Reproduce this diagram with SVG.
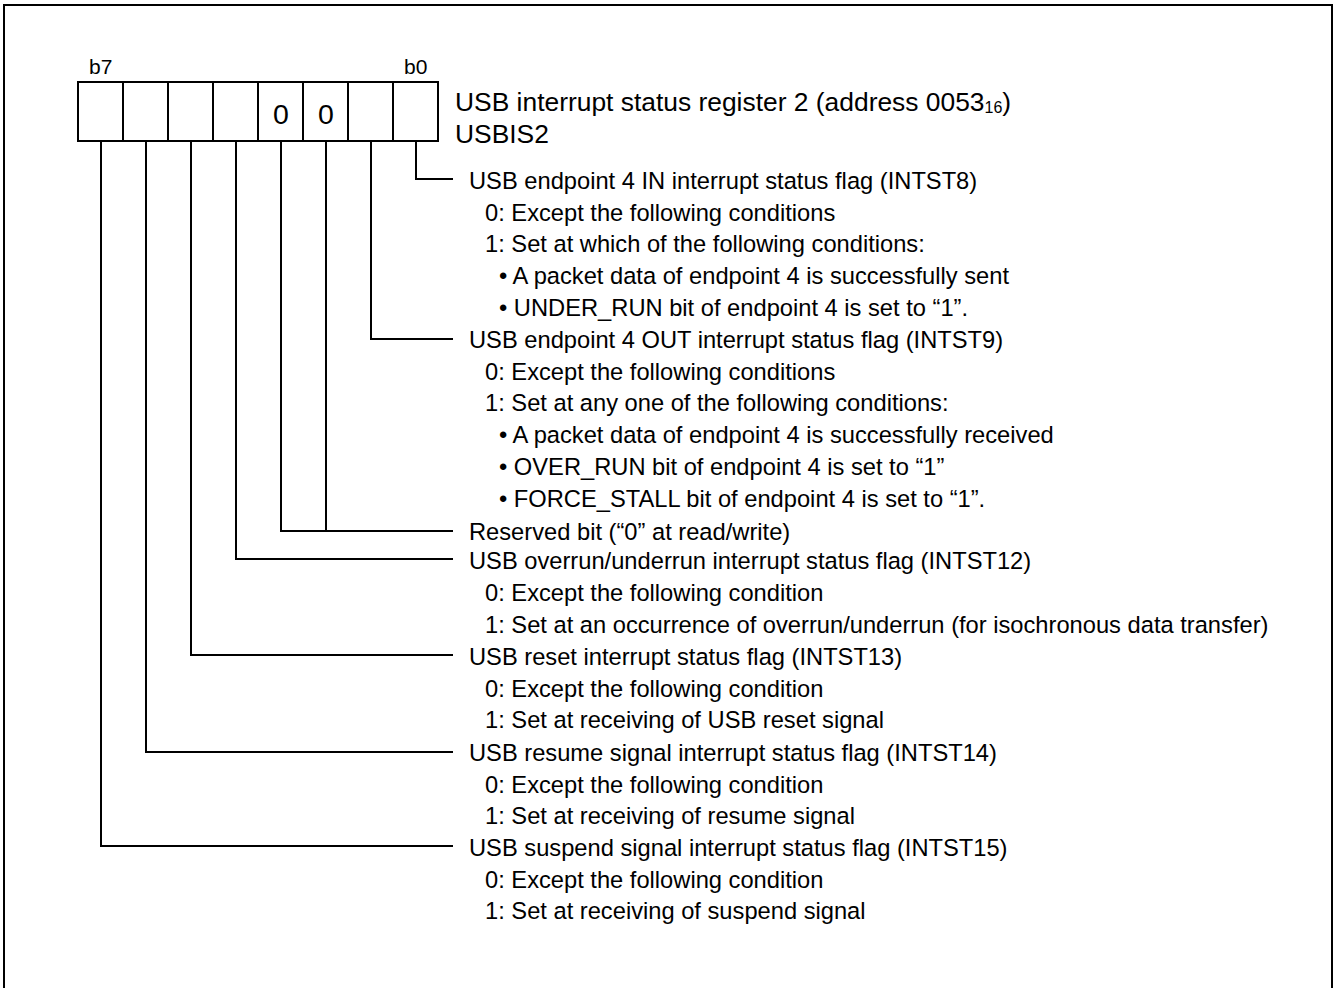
<svg xmlns="http://www.w3.org/2000/svg" width="1336" height="988" viewBox="0 0 1336 988">
<style>
.t{font-family:"Liberation Sans",Arial,sans-serif;font-size:23.7px;fill:#000}
.h{font-family:"Liberation Sans",Arial,sans-serif;font-size:26.4px;fill:#000}
.b{font-family:"Liberation Sans",Arial,sans-serif;font-size:21px;fill:#000}
.z{font-family:"Liberation Sans",Arial,sans-serif;font-size:28.5px;fill:#000;text-anchor:middle}
.ln{fill:none;stroke:#000;stroke-width:2}
</style>
<rect x="0" y="0" width="1336" height="988" fill="#fff"/>
<rect class="ln" x="4" y="5" width="1328" height="1000"/>
<g id="register">
<text class="b" x="89" y="74">b7</text>
<text class="b" x="404" y="74">b0</text>
<rect class="ln" x="78" y="82" width="360" height="59"/>
<path class="ln" d="M123 82V141M168 82V141M213 82V141M258 82V141M303 82V141M348 82V141M393 82V141"/>
<text class="z" x="281" y="124">0</text>
<text class="z" x="326" y="124">0</text>
<text class="h" x="455" y="111">USB interrupt status register 2 (address 0053<tspan font-size="16" dy="2">16</tspan><tspan dy="-2">)</tspan></text>
<text class="h" x="455" y="143">USBIS2</text>
</g>
<g id="connectors">
<path class="ln" d="M416 141V179H453"/>
<path class="ln" d="M371 141V339H453"/>
<path class="ln" d="M326 141V531"/>
<path class="ln" d="M281 141V531H453"/>
<path class="ln" d="M236 141V559H453"/>
<path class="ln" d="M191 141V655H453"/>
<path class="ln" d="M146 141V752H453"/>
<path class="ln" d="M101 141V846H453"/>
</g>
<g id="intst8">
<text class="t" x="469" y="189">USB endpoint 4 IN interrupt status flag (INTST8)</text>
<text class="t" x="485" y="221">0: Except the following conditions</text>
<text class="t" x="485" y="252">1: Set at which of the following conditions:</text>
<text class="t" x="499" y="284">• A packet data of endpoint 4 is successfully sent</text>
<text class="t" x="499" y="316">• UNDER_RUN bit of endpoint 4 is set to “1”.</text>
</g>
<g id="intst9">
<text class="t" x="469" y="348">USB endpoint 4 OUT interrupt status flag (INTST9)</text>
<text class="t" x="485" y="380">0: Except the following conditions</text>
<text class="t" x="485" y="411">1: Set at any one of the following conditions:</text>
<text class="t" x="499" y="443">• A packet data of endpoint 4 is successfully received</text>
<text class="t" x="499" y="475">• OVER_RUN bit of endpoint 4 is set to “1”</text>
<text class="t" x="499" y="507">• FORCE_STALL bit of endpoint 4 is set to “1”.</text>
</g>
<g id="reserved">
<text class="t" x="469" y="540">Reserved bit (“0” at read/write)</text>
</g>
<g id="intst12">
<text class="t" x="469" y="569">USB overrun/underrun interrupt status flag (INTST12)</text>
<text class="t" x="485" y="601">0: Except the following condition</text>
<text class="t" x="485" y="633">1: Set at an occurrence of overrun/underrun (for isochronous data transfer)</text>
</g>
<g id="intst13">
<text class="t" x="469" y="665">USB reset interrupt status flag (INTST13)</text>
<text class="t" x="485" y="697">0: Except the following condition</text>
<text class="t" x="485" y="728">1: Set at receiving of USB reset signal</text>
</g>
<g id="intst14">
<text class="t" x="469" y="761">USB resume signal interrupt status flag (INTST14)</text>
<text class="t" x="485" y="793">0: Except the following condition</text>
<text class="t" x="485" y="824">1: Set at receiving of resume signal</text>
</g>
<g id="intst15">
<text class="t" x="469" y="856">USB suspend signal interrupt status flag (INTST15)</text>
<text class="t" x="485" y="888">0: Except the following condition</text>
<text class="t" x="485" y="919">1: Set at receiving of suspend signal</text>
</g>
</svg>
